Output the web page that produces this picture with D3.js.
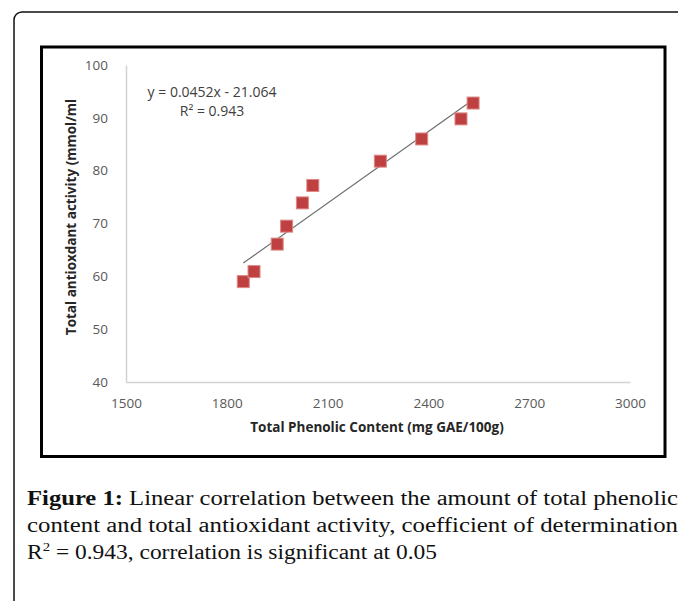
<!DOCTYPE html>
<html>
<head>
<meta charset="utf-8">
<script src="https://cdn.jsdelivr.net/npm/d3@7"></script>
<style>
  html, body { margin: 0; padding: 0; background: #fff; overflow: hidden; }
</style>
</head>
<body>
<svg id="chart" width="678" height="601"></svg>
<script>
// data
const phenolic = [1849, 1881, 1950, 1978, 2025, 2056, 2257, 2380, 2497, 2533];
const antioxidant = [59.0, 60.9, 66.1, 69.5, 73.9, 77.2, 81.8, 86.0, 89.8, 92.8];
const xTicks = [1500, 1800, 2100, 2400, 2700, 3000];
const yTicks = [40, 50, 60, 70, 80, 90, 100];
const trendCoef = [0.0452, -21.064];
const equationLines = ["y = 0.0452x - 21.064", "R\u00b2 = 0.943"];
const xTitle = "Total Phenolic Content (mg GAE/100g)";
const yTitle = "Total antioxdant activity (mmol/ml";
const captionLines = [
  ["Figure 1:", " Linear correlation between the amount of total phenolic"],
  ["", "content and total antioxidant activity, coefficient of determination"],
  ["", "R\u00b2 = 0.943, correlation is significant at 0.05"]
];

const svg = d3.select("#chart");

// outer frame with rounded top-left corner
svg.append("path")
  .attr("d", "M14,610 L14,20 A8,8 0 0 1 22,12 L690,12")
  .attr("fill", "none")
  .attr("stroke", "#111")
  .attr("stroke-width", 1.5);

// chart box
svg.append("rect")
  .attr("x", 41.5).attr("y", 47)
  .attr("width", 623.5).attr("height", 409.5)
  .attr("fill", "#fff")
  .attr("stroke", "#000")
  .attr("stroke-width", 3);

const x = d3.scaleLinear([1500, 3000], [126, 630]);
const y = d3.scaleLinear([40, 100], [382, 65]);

const axisX = d3.axisBottom(x).tickValues(xTicks).tickFormat(d3.format("d")).tickSize(0).tickPadding(16);
const axisY = d3.axisLeft(y).tickValues(yTicks).tickFormat(d3.format("d")).tickSize(0).tickPadding(18);

const gx = svg.append("g").attr("transform", `translate(0,${y(40)})`).call(axisX);
const gy = svg.append("g").attr("transform", `translate(${x(1500)},0)`).call(axisY);

[gx, gy].forEach((g) => {
  g.select(".domain").attr("stroke", "#d0d4d0").attr("stroke-width", 1.5);
  g.selectAll(".tick text")
    .attr("fill", "#595959")
    .attr("font-family", "'Open Sans', sans-serif")
    .attr("font-size", 13.5);
});

// trend line
const xMin = d3.min(phenolic), xMax = d3.max(phenolic);
const trend = (v) => trendCoef[0] * v + trendCoef[1];
svg.append("line")
  .attr("x1", x(xMin)).attr("y1", y(trend(xMin)))
  .attr("x2", x(xMax)).attr("y2", y(trend(xMax)))
  .attr("stroke", "#6e6e6e")
  .attr("stroke-width", 1.2);

// markers
const size = 12;
svg.selectAll(".pt")
  .data(d3.zip(phenolic, antioxidant))
  .join("rect")
  .attr("class", "pt")
  .attr("x", (d) => x(d[0]) - size / 2)
  .attr("y", (d) => y(d[1]) - size / 2)
  .attr("width", size)
  .attr("height", size)
  .attr("fill", "#bf4040")
  .attr("stroke", "#dc8a88")
  .attr("stroke-width", 1);

// equation
svg.selectAll(".eq")
  .data(equationLines)
  .join("text")
  .attr("class", "eq")
  .attr("x", 212)
  .attr("y", (d, i) => 97 + i * 19)
  .attr("text-anchor", "middle")
  .attr("fill", "#404040")
  .attr("font-family", "'Open Sans', sans-serif")
  .attr("font-size", 14)
  .text((d) => d);

// axis titles
svg.append("text")
  .attr("x", 377).attr("y", 432)
  .attr("text-anchor", "middle")
  .attr("font-family", "'Open Sans', sans-serif")
  .attr("font-weight", "bold")
  .attr("font-size", 13.5)
  .attr("fill", "#262626")
  .text(xTitle);

svg.append("text")
  .attr("transform", "translate(76,217) rotate(-90)")
  .attr("text-anchor", "middle")
  .attr("font-family", "'Open Sans', sans-serif")
  .attr("font-weight", "bold")
  .attr("font-size", 13.5)
  .attr("fill", "#262626")
  .text(yTitle);

// caption: lines 1-2 run to the right edge, line 3 is shorter
const capLeft = 27;
const capWidths = [651, 651, 410];
captionLines.forEach(([bold, rest], i) => {
  const t = svg.append("text")
    .attr("x", capLeft)
    .attr("y", 505 + i * 27)
    .attr("font-family", "'Liberation Serif', 'Times New Roman', serif")
    .attr("font-size", 20.5)
    .attr("fill", "#111");
  if (bold) t.append("tspan").attr("font-weight", "bold").text(bold);
  if (i === 2) {
    t.append("tspan").text("R");
    t.append("tspan").attr("font-size", 13).attr("dy", -8).text("2");
    t.append("tspan").attr("dy", 8).text(rest.slice(2));
  } else {
    t.append("tspan").text(rest);
  }
  t.attr("textLength", capWidths[i]).attr("lengthAdjust", "spacingAndGlyphs");
});
</script>
</body>
</html>
